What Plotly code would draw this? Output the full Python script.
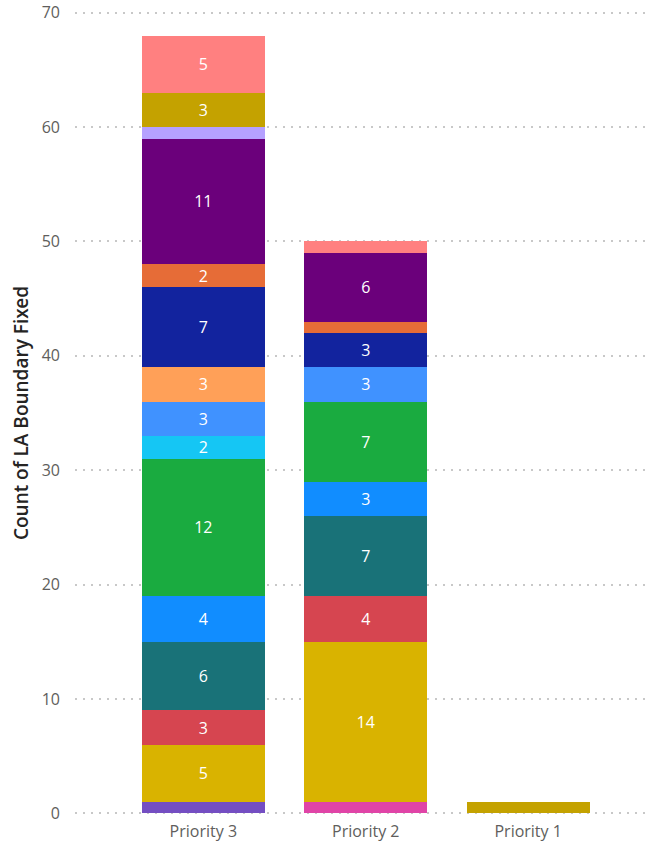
import plotly.graph_objects as go

# Categories on the x axis, in display order
categories = ["Priority 3", "Priority 2", "Priority 1"]

# Stacked series (bottom to top); each list is [Priority 3, Priority 2, Priority 1]
series_names = [
    "Group 01", "Group 02", "Group 03", "Group 04", "Group 05", "Group 06",
    "Group 07", "Group 08", "Group 09", "Group 10", "Group 11", "Group 12",
    "Group 13", "Group 14", "Group 15", "Group 16",
]
series_values = [
    [1, 0, 0],
    [0, 1, 0],
    [5, 14, 0],
    [3, 4, 0],
    [6, 7, 0],
    [4, 3, 0],
    [12, 7, 0],
    [2, 0, 0],
    [3, 3, 0],
    [3, 0, 0],
    [7, 3, 0],
    [2, 1, 0],
    [11, 6, 0],
    [1, 0, 0],
    [3, 0, 1],
    [5, 1, 0],
]
series_colors = [
    "#744EC2", "#E044A7", "#D9B300", "#D64550", "#197278", "#118DFF",
    "#1AAB40", "#15C6F4", "#4092FF", "#FFA058", "#12239E", "#E66C37",
    "#6B007B", "#B5A1FF", "#C4A200", "#FF8080",
]

y_ticks = [0, 10, 20, 30, 40, 50, 60, 70]

fig = go.Figure()
for name, vals, color in zip(series_names, series_values, series_colors):
    # value labels only on segments tall enough to hold them
    labels = [str(v) if v >= 2 else "" for v in vals]
    fig.add_trace(go.Bar(
        x=categories,
        y=vals,
        name=name,
        marker=dict(color=color, line=dict(width=0)),
        text=labels,
        textposition="inside",
        insidetextanchor="middle",
        textangle=0,
        textfont=dict(color="white", size=16, family="Open Sans"),
        hoverinfo="x+y+name",
    ))

fig.update_layout(
    barmode="stack",
    bargap=0.245,
    width=651,
    height=843,
    margin=dict(l=75, r=1, t=11, b=28),
    paper_bgcolor="white",
    plot_bgcolor="white",
    showlegend=False,
    font=dict(family="Open Sans", color="#666666"),
    uniformtext=dict(minsize=16, mode="show"),
    xaxis=dict(
        range=[-0.79, 2.75],
        showgrid=False,
        showline=False,
        zeroline=False,
        ticks="",
        ticklabelstandoff=5,
        tickfont=dict(size=16, color="#605E5C"),
    ),
    yaxis=dict(
        # small padding so the 0 and 70 gridlines are drawn
        range=[-0.15, 70.15],
        tickvals=y_ticks,
        showgrid=True,
        gridcolor="#C8C8C8",
        griddash="2px,6px",
        gridwidth=1.5,
        zeroline=False,
        showline=False,
        ticks="",
        ticklabelstandoff=14,
        tickfont=dict(size=16, color="#605E5C"),
        title=dict(text="Count of LA Boundary Fixed", standoff=8,
                   font=dict(size=19, color="#252423", family="Open Sans SemiBold, Open Sans")),
    ),
)

fig.write_html("out.html")
